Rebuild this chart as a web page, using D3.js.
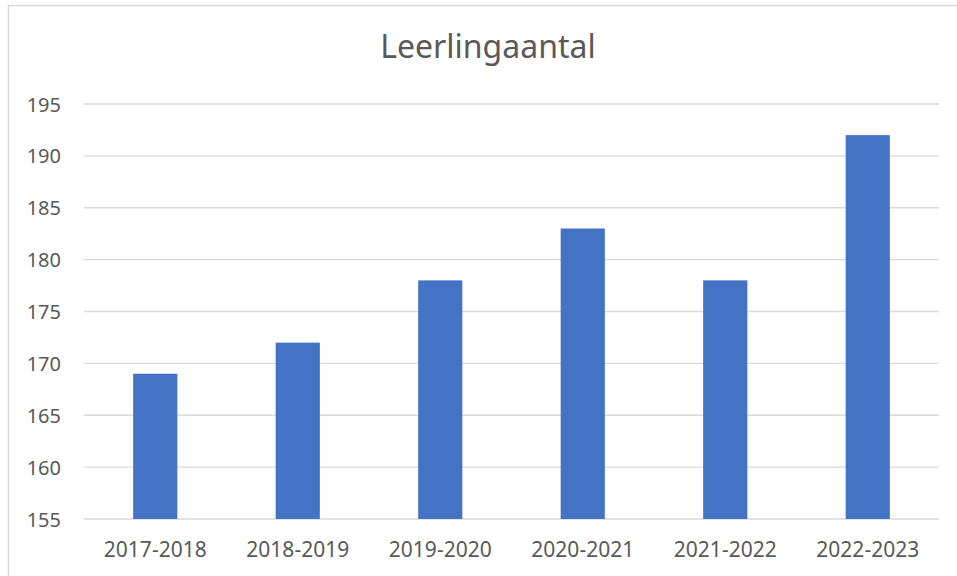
<!DOCTYPE html>
<html>
<head>
<meta charset="utf-8">
<script src="https://cdn.jsdelivr.net/npm/d3@7"></script>
<style>
  body { margin: 0; background: white; }
</style>
</head>
<body>
<div id="chart"></div>
<script>
// data
const years = ["2017-2018", "2018-2019", "2019-2020", "2020-2021", "2021-2022", "2022-2023"];
const pupils = [169, 172, 178, 183, 178, 192];
const yTicks = [155, 160, 165, 170, 175, 180, 185, 190, 195];

const width = 957;
const height = 576;
const margin = {top: 104, right: 18, bottom: 57, left: 84};
const fontFam = "'Noto Sans', 'Open Sans', sans-serif";
const textColor = "#595959";

const svg = d3.select('#chart')
              .append('svg')
              .attr('width', width)
              .attr('height', height)
              .style('background', 'white');

// chart frame (cut off at right and bottom)
svg.append("rect")
   .attr("x", 8.5)
   .attr("y", 5.5)
   .attr("width", 1000)
   .attr("height", 1000)
   .attr("fill", "none")
   .attr("stroke", "#d9d9d9")
   .attr("stroke-width", 1.5);

const x = d3.scaleBand()
            .domain(years)
            .range([margin.left, width - margin.right])
            .paddingInner(0.69)
            .paddingOuter(0.345);

const y = d3.scaleLinear()
            .domain([155, 195])
            .range([height - margin.bottom, margin.top]);

// gridlines
svg.append("g")
   .selectAll("line")
   .data(yTicks)
   .enter()
   .append("line")
   .attr("x1", margin.left)
   .attr("x2", width - margin.right)
   .attr("y1", d => y(d))
   .attr("y2", d => y(d))
   .attr("stroke", "#d9d9d9")
   .attr("stroke-width", 1.3);

// bars
svg.append("g")
   .selectAll("rect")
   .data(years)
   .enter()
   .append("rect")
   .attr("x", d => x(d))
   .attr("y", (d, i) => y(pupils[i]))
   .attr("width", x.bandwidth())
   .attr("height", (d, i) => y(155) - y(pupils[i]))
   .attr("fill", "#4472C4");

// y axis
const yAxis = svg.append("g")
   .attr("transform", `translate(${margin.left},0)`)
   .call(d3.axisLeft(y).tickValues(yTicks).tickSize(0).tickPadding(23));
yAxis.select(".domain").remove();
yAxis.selectAll("text")
     .style("font-family", fontFam)
     .style("font-size", "20px")
     .attr("fill", textColor)
     .attr("dy", "0.35em");

// x axis
const xAxis = svg.append("g")
   .attr("transform", `translate(0,${height - margin.bottom})`)
   .call(d3.axisBottom(x).tickSize(0).tickPadding(0));
xAxis.select(".domain").remove();
xAxis.selectAll("text")
     .attr("y", 31)
     .attr("dy", "0.35em")
     .style("font-family", fontFam)
     .style("font-size", "21px")
     .attr("fill", textColor);

// title
svg.append("text")
   .attr("x", 488)
   .attr("y", 49)
   .attr("text-anchor", "middle")
   .attr("dominant-baseline", "middle")
   .style("font-family", fontFam)
   .style("font-size", "32px")
   .attr("fill", textColor)
   .text("Leerlingaantal");
</script>
</body>
</html>
